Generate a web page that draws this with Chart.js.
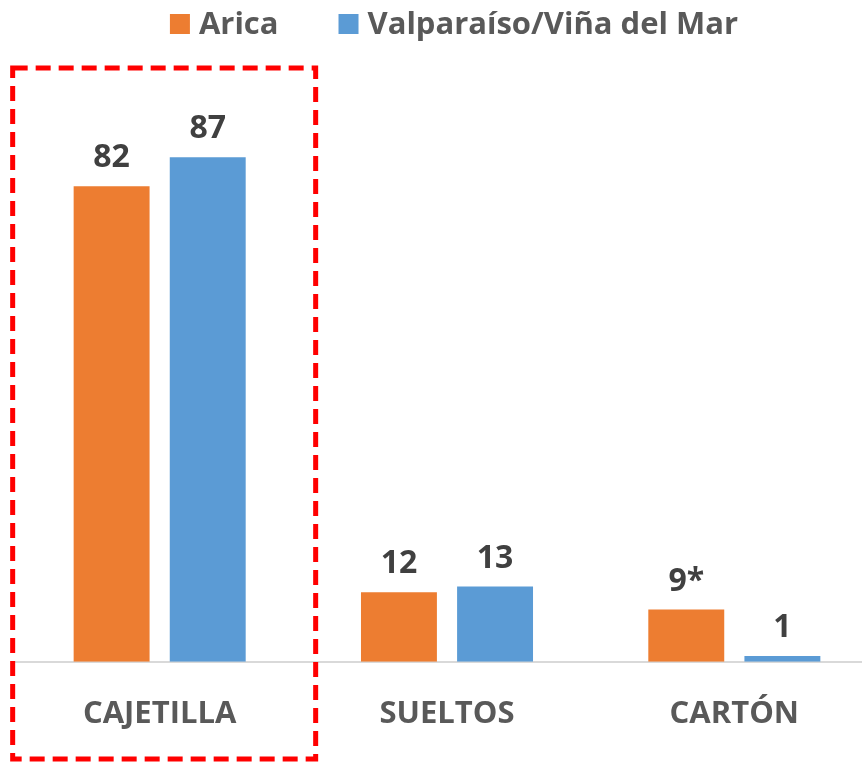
<!DOCTYPE html>
<html>
<head>
<meta charset="utf-8">
<script src="https://cdn.jsdelivr.net/npm/chart.js@4"></script>
<style>
 html, body { margin: 0; padding: 0; background: #ffffff; overflow: hidden; }
 #wrap { width: 878px; height: 763px; }
</style>
</head>
<body>
<div id="wrap"><canvas id="graphe"></canvas></div>
<script>
/********************************* Données du graphique ***********************************************************************/
 var categories   = [ "CAJETILLA", "SUELTOS", "CARTÓN" ];
 var serieArica   = [ 82, 12, 9 ];
 var notesArica   = [ "", "", "*" ];
 var serieValpo   = [ 87, 13, 1 ];
 var notesValpo   = [ "", "", "" ];
 var nomsSeries   = [ "Arica", "Valparaíso/Viña del Mar" ];
 var couleurs     = [ "#ed7d31", "#5b9bd5" ];

 var policeTexte  = "'Open Sans', Lato, sans-serif";

/********************************* Légende dessinée à la main (espacement type Excel) *****************************************/
 var pluginLegende =
  { id: "legende",
    afterDraw: function (chart)
     { var ctx = chart.ctx;
       var boite = 20, ecart = 9, espace = 60;
       ctx.save();
       ctx.font = "bold 31px " + policeTexte;
       ctx.textBaseline = "middle";
       var total = 0;
       chart.data.datasets.forEach( function (ds, i)
        { total += boite + ecart + ctx.measureText(ds.label).width + (i>0 ? espace : 0); } );
       var x = (chart.chartArea.left + chart.chartArea.right)/2 + 7 - total/2;
       var y = 24;
       chart.data.datasets.forEach( function (ds, i)
        { ctx.fillStyle = ds.backgroundColor;
          ctx.fillRect( x, y - boite/2, boite, boite );
          x += boite + ecart;
          ctx.fillStyle = "#595959";
          ctx.fillText( ds.label, x, y + 1 );
          x += ctx.measureText(ds.label).width + espace;
        });
       ctx.restore();
     }
  };

/********************************* Etiquettes de valeur au dessus des barres **************************************************/
 var pluginEtiquettes =
  { id: "etiquettes",
    afterDatasetsDraw: function (chart)
     { var ctx = chart.ctx;
       var notes = [ notesArica, notesValpo ];
       ctx.save();
       ctx.font = "bold 32px " + policeTexte;
       ctx.fillStyle = "#404040";
       ctx.textAlign = "center";
       ctx.textBaseline = "bottom";
       chart.data.datasets.forEach( function (ds, i)
        { chart.getDatasetMeta(i).data.forEach( function (bar, j)
           { ctx.fillText( ds.data[j] + notes[i][j], bar.x, bar.y - 12 ); } );
        });
       ctx.restore();
     }
  };

/********************************* Cadre rouge pointillé autour de la 1ère catégorie ******************************************/
 var pluginCadre =
  { id: "cadre",
    afterDraw: function (chart)
     { var ctx = chart.ctx;
       var x = chart.scales.x.getPixelForValue(0);
       ctx.save();
       ctx.strokeStyle = "#ff0000";
       ctx.lineWidth = 5;
       ctx.setLineDash( [ 15, 8 ] );
       ctx.strokeRect( x - 147, 68, 303, 691 );
       ctx.restore();
     }
  };

 var data = { labels: categories,
              datasets: [ { label: nomsSeries[0], data: serieArica, backgroundColor: couleurs[0] },
                          { label: nomsSeries[1], data: serieValpo, backgroundColor: couleurs[1] } ]
            };

 var options = { responsive: true,
                 maintainAspectRatio: false,
                 animation: false,
                 layout: { padding: { left: 16, right: 0, top: 82, bottom: 4 } },
                 datasets: { bar: { categoryPercentage: 0.669, barPercentage: 0.79 } },
                 scales: { x: { grid: { display: false },
                                border: { display: true, color: "#d9d9d9", width: 2 },
                                ticks: { color: "#595959", padding: 26,
                                         font: { family: policeTexte, size: 31, weight: "bold" } }
                              },
                           y: { display: false, min: 0, max: 100 }
                         },
                 plugins: { legend: { display: false },
                            tooltip: { enabled: false }
                          }
               };

 new Chart( document.getElementById("graphe"),
            { type: "bar", data: data, options: options, plugins: [ pluginEtiquettes, pluginCadre, pluginLegende ] } );
/*----------------------------------------------------------------------------------------------------------------------------*/
</script>
</body>
</html>
